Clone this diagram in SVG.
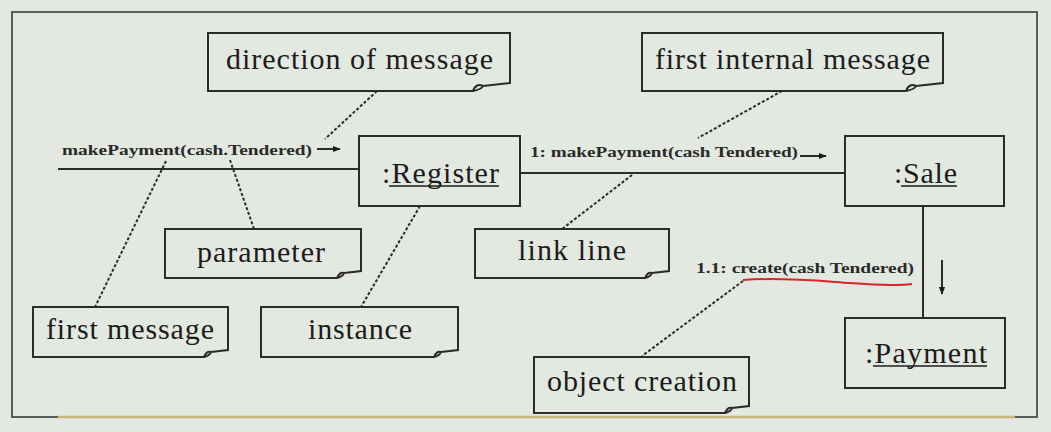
<svg xmlns="http://www.w3.org/2000/svg" width="1051" height="432" viewBox="0 0 1051 432">
<defs>
<style>
.bg{fill:#e3e8e1}
.box{fill:none;stroke:#2b2b2b;stroke-width:2}
.note{fill:none;stroke:#2b2b2b;stroke-width:2;stroke-linejoin:miter}
.lbl{font-family:"Liberation Serif","Times New Roman",serif;font-size:30px;fill:#1c1c1c}
.obj{font-family:"Liberation Serif","Times New Roman",serif;font-size:30px;fill:#1c1c1c}
.msg{font-family:"Liberation Serif","Times New Roman",serif;font-size:14px;font-weight:bold;fill:#2a2a2a}
.link{stroke:#2b2b2b;stroke-width:2;fill:none}
.dot{stroke:#2b2b2b;stroke-width:2;stroke-dasharray:3 2;fill:none}
.ul{stroke:#1c1c1c;stroke-width:1.5}
</style>
<marker id="ah" viewBox="0 0 10 10" refX="9" refY="5" markerWidth="8" markerHeight="8" markerUnits="userSpaceOnUse" orient="auto">
<path d="M0 1 L10 5 L0 9 Z" fill="#1c1c1c"/>
</marker>
</defs>
<rect class="bg" x="0" y="0" width="1051" height="432"/>
<g id="frame">
<path d="M12 417 V12 H1037 V417 Z" fill="none" stroke="#5a5d5a" stroke-width="2"/>
<line x1="58" y1="417" x2="1015" y2="417" stroke="#c9b77c" stroke-width="2.5"/>
</g>
<g id="connectors">
<line class="link" x1="58" y1="169" x2="359" y2="169"/>
<line class="link" x1="520" y1="173" x2="845" y2="173"/>
<line class="link" x1="923" y1="206" x2="923" y2="318"/>
<line class="link" x1="317" y1="149" x2="340" y2="149" stroke-width="1.5" marker-end="url(#ah)"/>
<line class="link" x1="800" y1="156" x2="826" y2="156" stroke-width="1.5" marker-end="url(#ah)"/>
<line class="link" x1="942" y1="260" x2="942" y2="294" stroke-width="1.5" marker-end="url(#ah)"/>
<line class="dot" x1="377" y1="91" x2="325" y2="139"/>
<line class="dot" x1="782" y1="91" x2="698" y2="138"/>
<line class="dot" x1="632" y1="175" x2="562" y2="229"/>
<line class="dot" x1="166" y1="161" x2="95" y2="307"/>
<line class="dot" x1="230" y1="160" x2="254" y2="229"/>
<line class="dot" x1="420" y1="206" x2="361" y2="307"/>
<line class="dot" x1="743" y1="281" x2="642" y2="356"/>
<path d="M743 280 C780 277 820 281 850 283 C875 285 895 286 912 284" fill="none" stroke="#d8242c" stroke-width="2"/>
</g>
<g id="msg1"><text class="msg" x="62" y="155" textLength="250" lengthAdjust="spacingAndGlyphs">makePayment(cash.Tendered)</text></g>
<g id="msg2"><text class="msg" x="530" y="157" textLength="268" lengthAdjust="spacingAndGlyphs">1: makePayment(cash Tendered)</text></g>
<g id="msg3"><text class="msg" x="696" y="273" textLength="218" lengthAdjust="spacingAndGlyphs">1.1: create(cash Tendered)</text></g>
<g id="register">
<rect class="box" x="359" y="136" width="161" height="70"/>
<text class="obj" x="382" y="183" textLength="117">:Register</text>
<line class="ul" x1="389" y1="186" x2="499" y2="186"/>
</g>
<g id="sale">
<rect class="box" x="845" y="136" width="159" height="70"/>
<text class="obj" x="894" y="183" textLength="63">:Sale</text>
<line class="ul" x1="901" y1="186" x2="957" y2="186"/>
</g>
<g id="payment">
<rect class="box" x="845" y="318" width="160" height="70"/>
<text class="obj" x="865" y="363" textLength="122">:Payment</text>
<line class="ul" x1="873" y1="366" x2="987" y2="366"/>
</g>
<g id="note-direction">
<path class="note" d="M208 33 H510 V83 L483 86 C479 84 475 85 473 91 H208 Z M473 91 C478 90 482 89 483 86"/>
<text class="lbl" x="226" y="69" textLength="267">direction of message</text>
</g>
<g id="note-first-internal">
<path class="note" d="M642 33 H943 V83 L916 86 C912 84 908 85 906 91 H642 Z M906 91 C911 90 915 89 916 86"/>
<text class="lbl" x="655" y="69" textLength="275">first internal message</text>
</g>
<g id="note-parameter">
<path class="note" d="M165 229 H361 V271 L344 273 C341 272 339 273 337 278 H165 Z M337 278 C341 277 343 276 344 273"/>
<text class="lbl" x="197" y="262" textLength="128">parameter</text>
</g>
<g id="note-link-line">
<path class="note" d="M475 229 H669 V271 L652 273 C649 272 647 273 645 278 H475 Z M645 278 C649 277 651 276 652 273"/>
<text class="lbl" x="518" y="260" textLength="108">link line</text>
</g>
<g id="note-first-message">
<path class="note" d="M33 307 H228 V350 L211 352 C208 351 206 352 204 357 H33 Z M204 357 C208 356 210 355 211 352"/>
<text class="lbl" x="46" y="339" textLength="168">first message</text>
</g>
<g id="note-instance">
<path class="note" d="M261 307 H458 V350 L441 352 C438 351 436 352 434 357 H261 Z M434 357 C438 356 440 355 441 352"/>
<text class="lbl" x="308" y="339" textLength="104">instance</text>
</g>
<g id="note-object-creation">
<path class="note" d="M534 357 H749 V406 L732 408 C729 407 727 408 725 413 H534 Z M725 413 C729 412 731 411 732 408"/>
<text class="lbl" x="547" y="391" textLength="190">object creation</text>
</g>
</svg>
